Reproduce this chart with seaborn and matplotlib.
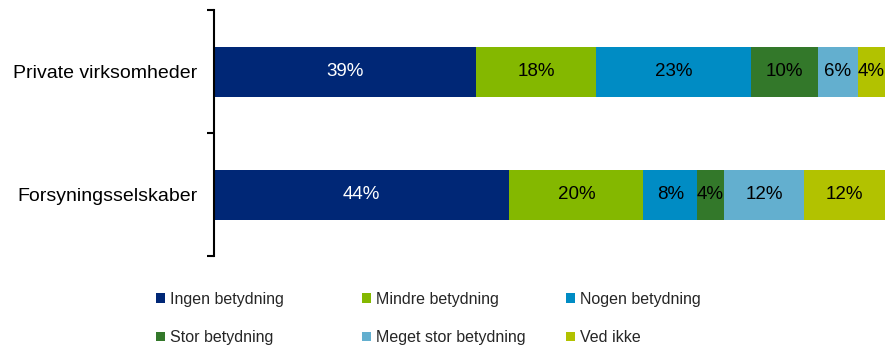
import matplotlib
matplotlib.use("Agg")
import matplotlib.pyplot as plt
from matplotlib.patches import Patch
import numpy as np
import pandas as pd
import seaborn as sns

# Survey answers per respondent group (share in %)
groups = ["Private virksomheder", "Forsyningsselskaber"]
answers = ["Ingen betydning", "Mindre betydning", "Nogen betydning",
           "Stor betydning", "Meget stor betydning", "Ved ikke"]
private_vals = [39, 18, 23, 10, 6, 4]
supply_vals = [44, 20, 8, 4, 12, 12]
colors = ["#002776", "#84b800", "#008cc4", "#33782a", "#63afcf", "#b2c200"]
label_colors = ["white", "black", "black", "black", "black", "black"]

sns.set_theme(style="white")
plt.rcParams["font.family"] = ["Liberation Sans", "DejaVu Sans"]

vals = np.array([private_vals, supply_vals], dtype=float)
cum = vals.cumsum(axis=1)

fig = plt.figure(figsize=(8.95, 3.52), dpi=100)
ax = fig.add_axes([214 / 895, 1 - 256 / 352, (885 - 214) / 895, (256 - 10) / 352])

bar_w = 50 / 123
# Stacked bars: draw cumulative totals from the last answer back to the first
for j in range(len(answers) - 1, -1, -1):
    df = pd.DataFrame({"group": groups, "end": cum[:, j]})
    sns.barplot(data=df, x="end", y="group", order=groups, color=colors[j],
                width=bar_w, saturation=1, edgecolor="none", linewidth=0, ax=ax)

for i in range(len(groups)):
    for j in range(len(answers)):
        ax.text(cum[i, j] - vals[i, j] / 2, i, f"{vals[i, j]:.0f}%",
                ha="center", va="center", fontsize=13.5, color=label_colors[j])

ax.set_xlim(0, 100)
ax.set_ylim(1.5, -0.5)
ax.set_xlabel("")
ax.set_ylabel("")
ax.set_xticks([])
for s in ["top", "right", "bottom"]:
    ax.spines[s].set_visible(False)
ax.spines["left"].set_color("black")
ax.spines["left"].set_linewidth(1.5)

ax.set_yticks([0, 1])
ax.set_yticklabels(groups, fontsize=14, color="black")
ax.set_yticks([-0.5, 0.5, 1.5], minor=True)
ax.tick_params(axis="y", which="major", length=0, pad=12)
ax.tick_params(axis="y", which="minor", length=5, width=1.5, color="black",
               direction="out", left=True)

# Legend laid out in three columns of two rows
col_x = [156 / 895, 362 / 895, 566 / 895]
for c in range(3):
    idx = [c, c + 3]
    handles = [Patch(facecolor=colors[k], edgecolor="none") for k in idx]
    fig.legend(handles, [answers[k] for k in idx], loc="upper left",
               bbox_to_anchor=(col_x[c], 1 - 292 / 352), frameon=False,
               fontsize=11.5, handlelength=0.56, handleheight=0.56,
               handletextpad=0.3, borderpad=0, borderaxespad=0,
               labelspacing=1.45)

fig.savefig("out.png", dpi=100)
